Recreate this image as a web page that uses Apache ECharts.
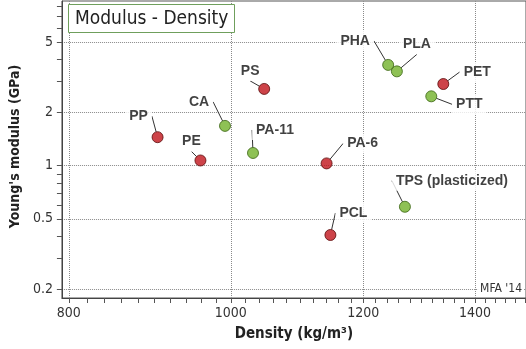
<!DOCTYPE html>
<html><head><meta charset="utf-8">
<script src="https://cdn.jsdelivr.net/npm/echarts@6/dist/echarts.min.js"></script>
<style>html,body{margin:0;padding:0;background:#fff}#c{width:526px;height:349px}</style>
</head><body><div id="c"></div>
<script>
const materials = ['PP','PE','CA','PS','PA-11','PA-6','PCL','PHA','PLA','TPS (plasticized)','PTT','PET'];
const density = [904, 959, 992, 1047, 1031, 1141, 1147, 1242, 1257, 1271, 1318, 1340];
const modulus = [1.45, 1.07, 1.68, 2.72, 1.18, 1.03, 0.405, 3.72, 3.42, 0.585, 2.47, 2.9];
const origin = ['fossil','fossil','bio','fossil','bio','fossil','fossil','bio','bio','bio','bio','fossil'];
const xTickLabels = [800, 1000, 1200, 1400];
const xMinorTicks = [800,820,840,860,880,900,920,940,960,980,1000,1020,1040,1060,1080,1100,1120,1140,1160,1180,1200,1220,1240,1260,1280,1300,1320,1340,1360,1380,1400,1420,1440,1460,1480,1500];
const yTickLabels = [0.2, 0.5, 1, 2, 5];
const yMinorTicks = [0.2,0.3,0.4,0.5,0.6,0.7,0.8,0.9,1,2,3,4,5,6,7,8];
const labelOffsets = [[-19,-21],[-9,-19],[-26,-24],[-14,-18],[22,-23],[36,-20],[23,-22],[-33,-24],[20,-27],[47,-26],[38,8],[34,-12]];

const FONT = "'DejaVu Sans Condensed', 'DejaVu Sans', sans-serif";
const LFONT = "'Liberation Sans', Arial, sans-serif";
const COLORS = {fossil: {fill: '#c1141b', border: '#5a0a0a'}, bio: {fill: '#72b22a', border: '#3a6412'}};

const X_MIN = 792.4, X_MAX = 1501.7, Y_MIN = 0.1781, Y_MAX = 8.56;

const chart = echarts.init(document.getElementById('c'), null, {renderer: 'canvas'});

const seriesData = materials.map((m, i) => ({
  name: m,
  value: [density[i], modulus[i]],
  itemStyle: {color: COLORS[origin[i]].fill, borderColor: COLORS[origin[i]].border, borderWidth: 1}
}));

const option = {
  animation: false,
  backgroundColor: '#fff',
  grid: {left: 57, right: -2, top: 1, bottom: 51, show: true, borderColor: '#555', borderWidth: 1},
  xAxis: [{
    type: 'log', min: X_MIN, max: X_MAX, position: 'bottom',
    name: 'Density (kg/m³)', nameLocation: 'middle', nameGap: 29,
    nameTextStyle: {fontFamily: FONT, fontWeight: 'bold', fontSize: 15, color: '#222'},
    axisLine: {show: true, lineStyle: {color: '#444', width: 1}},
    axisTick: {show: true, customValues: xTickLabels, length: 5, lineStyle: {color: '#555'}},
    axisLabel: {customValues: xTickLabels, margin: 8, fontFamily: FONT, fontSize: 14, color: '#333', formatter: v => String(v)},
    splitLine: {show: true, lineStyle: {color: '#8a8a8a', type: 'dotted', width: 1}}
  }, {
    type: 'log', min: X_MIN, max: X_MAX, position: 'bottom',
    axisLine: {show: false},
    axisTick: {show: true, customValues: xMinorTicks, length: 5, lineStyle: {color: '#555'}},
    axisLabel: {show: false},
    splitLine: {show: false}
  }],
  yAxis: [{
    type: 'log', min: Y_MIN, max: Y_MAX, position: 'left',
    name: "Young's modulus (GPa)", nameLocation: 'middle', nameGap: 32,
    nameTextStyle: {fontFamily: FONT, fontWeight: 'bold', fontSize: 14, color: '#222', padding: [0, 0, 0, 6]},
    axisLine: {show: true, lineStyle: {color: '#444', width: 1}},
    axisTick: {show: true, customValues: yTickLabels, length: 5, lineStyle: {color: '#555'}},
    axisLabel: {customValues: yTickLabels, margin: 9, fontFamily: FONT, fontSize: 14, color: '#333', formatter: v => String(v)},
    splitLine: {show: true, lineStyle: {color: '#8a8a8a', type: 'dotted', width: 1}}
  }, {
    type: 'log', min: Y_MIN, max: Y_MAX, position: 'left',
    axisLine: {show: false},
    axisTick: {show: true, customValues: yMinorTicks, length: 5, lineStyle: {color: '#555'}},
    axisLabel: {show: false},
    splitLine: {show: false}
  }],
  series: [{
    type: 'scatter',
    xAxisIndex: 0, yAxisIndex: 0,
    symbol: 'circle', symbolSize: 11,
    data: seriesData,
    label: {
      show: true, position: 'inside', formatter: '{b}',
      fontFamily: LFONT, fontWeight: 'bold', fontSize: 14, color: '#111',
      backgroundColor: '#fff', padding: [3, 4]
    },
    labelLine: {show: true, lineStyle: {color: '#333', width: 1}},
    labelLayout: p => ({dx: labelOffsets[p.dataIndex][0], dy: labelOffsets[p.dataIndex][1]}),
    emphasis: {disabled: true}
  }],
  graphic: [{
    type: 'rect', z: 100,
    shape: {x: 68.5, y: 4.5, width: 166, height: 28},
    style: {fill: '#fff', stroke: '#6f9f5c', lineWidth: 1}
  }, {
    type: 'text', z: 101,
    style: {x: 75, y: 19, text: 'Modulus - Density', font: '19px ' + FONT, fill: '#222', verticalAlign: 'middle', align: 'left'}
  }, {
    type: 'text', z: 101,
    style: {x: 524, y: 289, text: "MFA '14", font: '12px ' + FONT, fill: '#333', verticalAlign: 'middle', align: 'right',
      backgroundColor: '#fff', padding: [1, 2]}
  }]
};
chart.setOption(option);
</script></body></html>
